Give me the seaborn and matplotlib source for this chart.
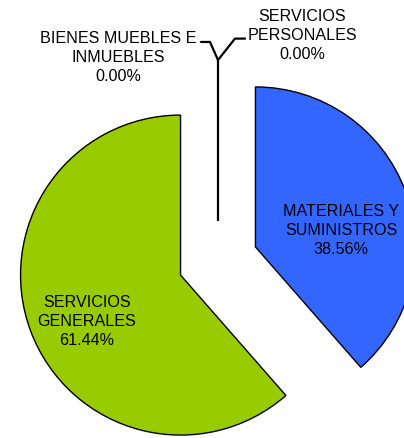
import numpy as np
import matplotlib
matplotlib.use("Agg")
import matplotlib.pyplot as plt
import seaborn as sns

# datos del gráfico
categorias = ["SERVICIOS\nPERSONALES", "MATERIALES Y\nSUMINISTROS",
              "SERVICIOS\nGENERALES", "BIENES MUEBLES E\nINMUEBLES"]
valores = [0.0, 38.56, 61.44, 0.0]
colores = ["#FF9900", "#3366FF", "#99CC00", "#993366"]

sns.set_theme(style="white")
plt.rcParams['font.family'] = ['Liberation Sans', 'DejaVu Sans']
plt.rcParams['text.color'] = 'black'

fig = plt.figure(figsize=(4.04, 4.38), dpi=100)
ax = fig.add_axes([0, 0, 1, 1])

total = sum(valores)
porcentajes = [f"{v / total * 100:.2f}%" for v in valores]

wedges, _ = ax.pie(valores, colors=colores, startangle=90, counterclock=False,
                   explode=[0.25] * len(valores),
                   wedgeprops=dict(edgecolor="black", linewidth=1.0))

txt = dict(ha="center", va="center", fontsize=11.6, color="black", linespacing=1.33)

# etiquetas dentro de las porciones
pos_dentro = {1: (0.77, 0.19), 2: (-0.82, -0.38)}
for i, (x, y) in pos_dentro.items():
    ax.text(x, y, f"{categorias[i]}\n{porcentajes[i]}", **txt)

# porciones en cero con línea guía
base = (0, 0.25)
union = (0, 1.256)
ax.plot([base[0], union[0]], [base[1], union[1]], color="black", lw=1.6,
        solid_capstyle="butt")
ax.plot([union[0], -0.05, -0.106], [union[1], 1.369, 1.369], color="black", lw=1.6)
ax.plot([union[0], 0.106, 0.169], [union[1], 1.39, 1.39], color="black", lw=1.6)
ax.text(-0.625, 1.271, f"{categorias[3]}\n{porcentajes[3]}", **txt)
ax.text(0.525, 1.407, f"{categorias[0]}\n{porcentajes[0]}", **txt)

ax.set_aspect("auto")
ax.set_xlim(-218 / 160, (404 - 218) / 160)
ax.set_ylim(-(438 - 261) / 160, 261 / 160)
ax.axis("off")

fig.savefig("out.png", dpi=100, facecolor="white")
